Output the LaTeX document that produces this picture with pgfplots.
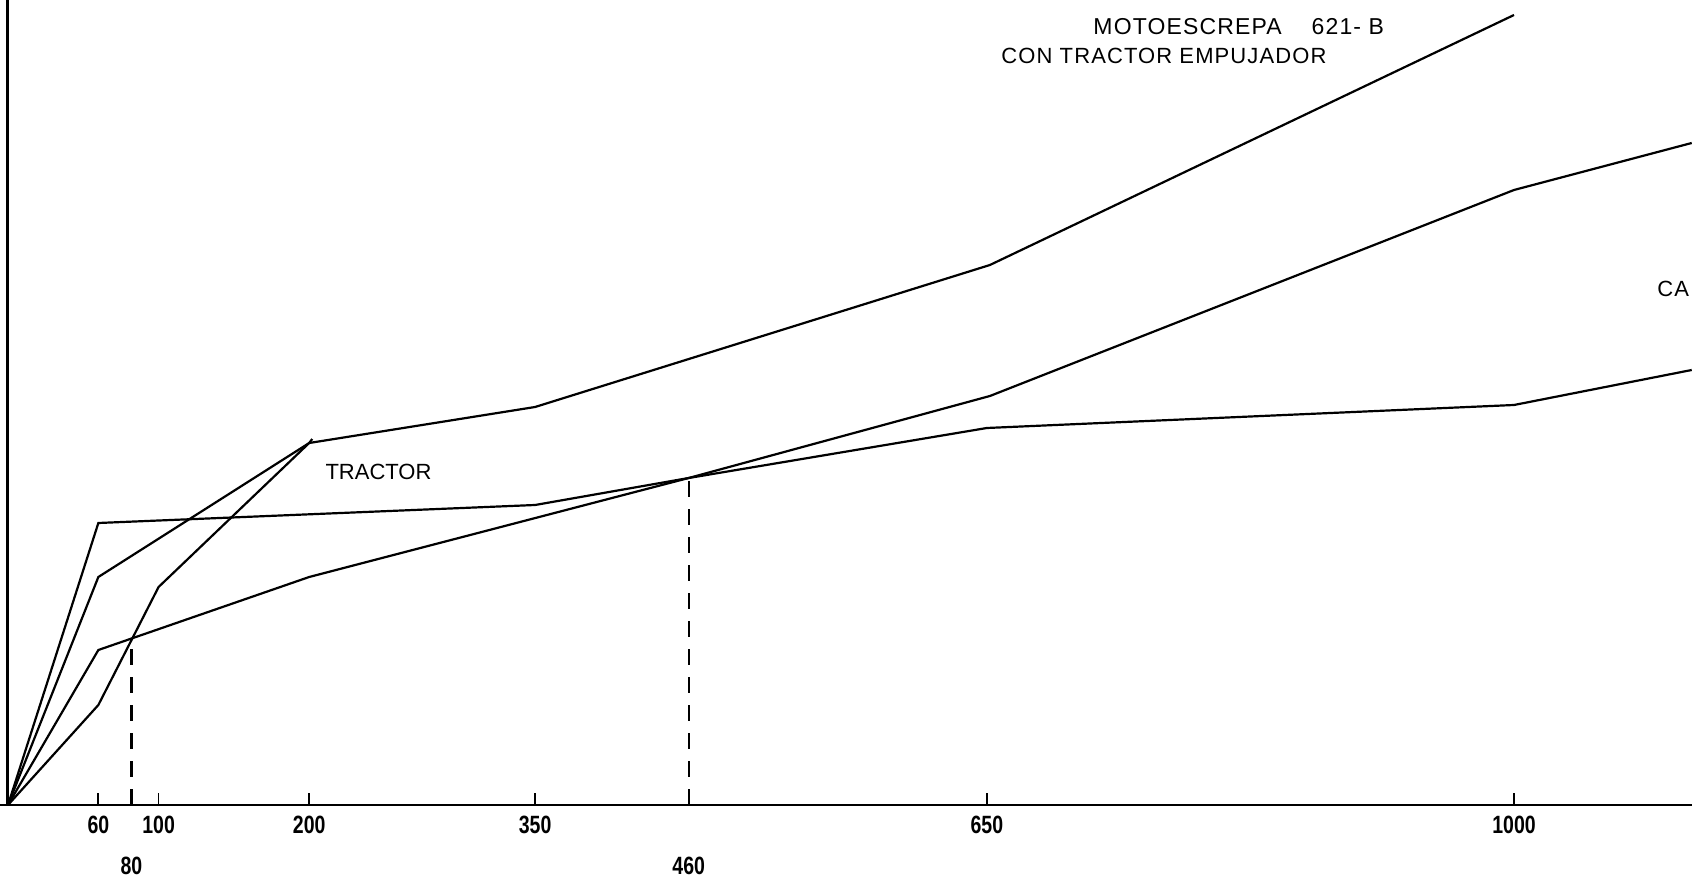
\documentclass[border=0pt]{standalone}
\usepackage{fontspec}
\setmainfont{Liberation Sans}
\newfontfamily\tickfont[FakeStretch=0.78]{Liberation Sans}
\newfontfamily\lblfont[LetterSpace=5]{Liberation Sans}
\usepackage{pgfplots}
\pgfplotsset{compat=1.18}
\begin{document}
\begin{tikzpicture}
\begin{axis}[
  scale only axis, width=846pt, height=444.5pt,
  xmin=-5.31, xmax=1118.2, ymin=-84, ymax=805,
  axis x line=middle, axis y line=none,
  axis line style={-, line width=1.3pt},
  xtick={60,100,200,350,650,1000},
  xticklabels={60,100,200,350,650,1000},
  xtick align=inside, major tick length=6pt,
  tick style={line width=0.9pt, black},
  ytick=\empty,
  tick label style={font=\tickfont\bfseries\fontsize{12.5}{14}\selectfont, yshift=-2pt},
  extra x ticks={82,452},
  extra x tick labels={80,460},
  extra x tick style={major tick length=0pt, tick label style={yshift=-20.5pt}},
]
% y axis line
\addplot[black, line width=1.5pt] coordinates {(0,0) (0,805)};
% Motoescrepa 621-B con tractor empujador
\addplot[black, line width=1.1pt] coordinates {(0,0) (60,228) (200,362) (350,398) (652,540) (1000,790)};
% Tractor
\addplot[black, line width=1.1pt] coordinates {(0,0) (60,100) (100,218) (200,362) (202,366)};
% intermediate curve
\addplot[black, line width=1.1pt] coordinates {(0,0) (60,155) (200,228) (452,327) (652,409) (1000,615) (1118,662)};
% CA... curve
\addplot[black, line width=1.1pt] coordinates {(0,0) (60,282) (350,300) (452,327) (650,377) (1000,400) (1118,435)};
% dashed guides
\addplot[black, line width=1.1pt, dash pattern=on 8pt off 6pt] coordinates {(82,0) (82,168)};
\addplot[black, line width=1.1pt, dash pattern=on 8pt off 6pt] coordinates {(452,0) (452,327)};
\node[font=\fontsize{11}{13}\selectfont, inner sep=0pt] at (axis cs:246,333) {TRACTOR};
\node[font=\lblfont\fontsize{11.5}{13}\selectfont, anchor=west, inner sep=0pt] at (axis cs:720.5,778) {MOTOESCREPA\hspace{1.3em}621-\ B};
\node[font=\lblfont\fontsize{11}{13}\selectfont, anchor=west, inner sep=0pt] at (axis cs:659.4,749) {CON TRACTOR EMPUJADOR};
\node[font=\lblfont\fontsize{11}{13}\selectfont, anchor=west, inner sep=0pt] at (axis cs:1095,516) {CA};
\end{axis}
\pgfresetboundingbox
\path[use as bounding box] (current axis.south west) rectangle (current axis.north east);
\end{tikzpicture}
\end{document}
